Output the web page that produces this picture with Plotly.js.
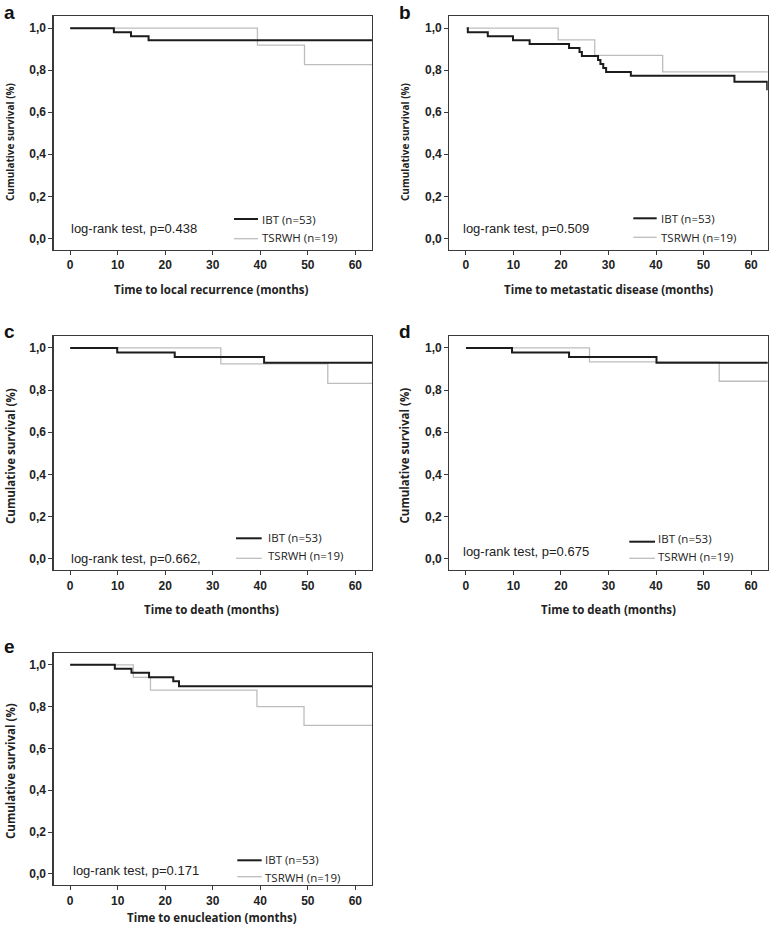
<!DOCTYPE html>
<html>
<head>
<meta charset="utf-8">
<script src="https://cdn.plot.ly/plotly-3.0.1.min.js"></script>
<style>html,body{margin:0;padding:0;background:#fff;}#chart{width:769px;height:932px;}</style>
</head>
<body>
<div id="chart"></div>
<script>
// ---------- DATA ----------
const seriesNames = ['IBT (n=53)', 'TSRWH (n=19)'];
const xTicks = [0, 10, 20, 30, 40, 50, 60];
const yTicks = [0, 0.2, 0.4, 0.6, 0.8, 1.0];
const yTickLabels = ['0,0', '0,2', '0,4', '0,6', '0,8', '1,0'];
const panelLetters = ['a', 'b', 'c', 'd', 'e'];
const xTitles = ['Time to local recurrence (months)', 'Time to metastatic disease (months)',
                 'Time to death (months)', 'Time to death (months)', 'Time to enucleation (months)'];
const logRankTexts = ['log-rank test, p=0.438', 'log-rank test, p=0.509', 'log-rank test, p=0.662,',
                      'log-rank test, p=0.675', 'log-rank test, p=0.171'];

// Panel a – local recurrence
const a_ibt_t = [0, 9.2, 12.8, 16.5, 65];
const a_ibt_s = [1.0, 0.981, 0.962, 0.943, 0.943];
const a_ts_t  = [0, 39.4, 49.3, 65];
const a_ts_s  = [1.0, 0.919, 0.827, 0.827];

// Panel b – metastatic disease
const b_ibt_t = [0.2, 0.4, 4.6, 9.9, 13.4, 21.7, 23.9, 24.4, 27.8, 28.3, 28.9, 29.5, 34.7, 56.5, 63.4, 65];
const b_ibt_s = [1.0, 0.981, 0.962, 0.943, 0.925, 0.906, 0.887, 0.868, 0.849, 0.830, 0.811, 0.792, 0.774, 0.745, 0.71, 0.71];
const b_ts_t  = [0, 19.4, 27.1, 41.4, 65];
const b_ts_s  = [1.0, 0.944, 0.871, 0.792, 0.792];

// Panel c – death
const c_ibt_t = [0, 9.9, 22.0, 40.8, 65];
const c_ibt_s = [1.0, 0.978, 0.957, 0.930, 0.930];
const c_ts_t  = [0, 31.7, 54.2, 65];
const c_ts_s  = [1.0, 0.924, 0.832, 0.832];

// Panel d – death
const d_ibt_t = [0, 9.7, 21.7, 40.1, 65];
const d_ibt_s = [1.0, 0.978, 0.957, 0.930, 0.930];
const d_ts_t  = [0, 26.0, 53.3, 65];
const d_ts_s  = [1.0, 0.934, 0.842, 0.842];

// Panel e – enucleation
const e_ibt_t = [0, 9.4, 12.9, 16.6, 21.7, 22.9, 65];
const e_ibt_s = [1.0, 0.981, 0.962, 0.941, 0.922, 0.898, 0.898];
const e_ts_t  = [0, 13.3, 16.9, 39.3, 49.2, 65];
const e_ts_s  = [1.0, 0.940, 0.879, 0.800, 0.710, 0.710];

// ---------- LAYOUT SPEC (pixel positions in the 769x932 page) ----------
const W = 769, H = 932;
const px = x => x / W;
const py = y => 1 - y / H;
const colX = [[53.5, 372], [449.3, 767.7]];
const rowY = [[16, 249.5], [335.7, 570], [652.7, 885]];

const panels = [
  {col:0,row:0, ibt:[a_ibt_t,a_ibt_s], ts:[a_ts_t,a_ts_s], letter:[2,12], ytitle:[10,142,10], xtitle:[211,290],
   lr:[69,228.7], leg:{l0:234,l1:258,yb:219,yg:238.7,tx:261,tyb:219,tyg:237.5}},
  {col:1,row:0, ibt:[b_ibt_t,b_ibt_s], ts:[b_ts_t,b_ts_s], letter:[397,12], ytitle:[405,142,10], xtitle:[608.5,290],
   lr:[460.7,228.7], leg:{l0:633.3,l1:656.7,yb:218.3,yg:237.3,tx:659.5,tyb:218.8,tyg:237.5}},
  {col:0,row:1, ibt:[c_ibt_t,c_ibt_s], ts:[c_ts_t,c_ts_s], letter:[2,331], ytitle:[10,456,11.5], xtitle:[212,609],
   lr:[69.3,558.3], leg:{l0:236,l1:261.7,yb:538.3,yg:558.3,tx:266.7,tyb:537.3,tyg:555.3}},
  {col:1,row:1, ibt:[d_ibt_t,d_ibt_s], ts:[d_ts_t,d_ts_s], letter:[397,331], ytitle:[403.5,456,11.5], xtitle:[608.5,609],
   lr:[460.7,551.7], leg:{l0:629.3,l1:655,yb:541.7,yg:558.3,tx:657.3,tyb:538.3,tyg:556.3}},
  {col:0,row:2, ibt:[e_ibt_t,e_ibt_s], ts:[e_ts_t,e_ts_s], letter:[2,646], ytitle:[10,771,11.5], xtitle:[212,917.3],
   lr:[71,870], leg:{l0:237.3,l1:261.7,yb:860.3,yg:876.7,tx:264,tyb:859,tyg:877}}
];

const BLACK = '#1c1c1c', GRAY = '#bdbdbd', FRAME = '#3a3a3a';
const tickFont = {family:'Liberation Sans, Arial, sans-serif', size:12, color:'#222', weight:'bold'};
const titleFamily = 'Open Sans, Noto Sans, sans-serif';

const data = [];
const layout = {
  width: W, height: H,
  margin: {l:0, r:0, t:0, b:0},
  paper_bgcolor: '#fff', plot_bgcolor: '#fff',
  showlegend: false,
  separators: ',.',
  annotations: [], shapes: []
};

panels.forEach((p, i) => {
  const n = i + 1;
  const xa = 'x' + (n === 1 ? '' : n), ya = 'y' + (n === 1 ? '' : n);
  const xk = 'xaxis' + (n === 1 ? '' : n), yk = 'yaxis' + (n === 1 ? '' : n);
  data.push({x: p.ts[0], y: p.ts[1], xaxis: xa, yaxis: ya, type: 'scatter', mode: 'lines',
             name: seriesNames[1], line: {shape: 'hv', color: GRAY, width: 1.3}, hoverinfo: 'skip'});
  data.push({x: p.ibt[0], y: p.ibt[1], xaxis: xa, yaxis: ya, type: 'scatter', mode: 'lines',
             name: seriesNames[0], line: {shape: 'hv', color: BLACK, width: 2}, hoverinfo: 'skip'});
  const cx = colX[p.col], ry = rowY[p.row];
  layout[xk] = {domain: [px(cx[0]), px(cx[1])], anchor: ya, range: [-3.5, 63.5],
    tickmode: 'array', tickvals: xTicks, ticktext: xTicks.map(String),
    ticks: 'outside', ticklen: 4, tickwidth: 1, tickcolor: FRAME, tickfont: tickFont,
    showline: true, linecolor: FRAME, linewidth: 1.2, mirror: true,
    showgrid: false, zeroline: false, fixedrange: true};
  layout[yk] = {domain: [py(ry[1]), py(ry[0])], anchor: xa, range: [-0.053, 1.058],
    tickmode: 'array', tickvals: yTicks, ticktext: yTickLabels,
    ticks: 'outside', ticklen: 4, tickwidth: 1, tickcolor: FRAME, tickfont: tickFont,
    showline: true, linecolor: FRAME, linewidth: 1.2, mirror: true,
    showgrid: false, zeroline: false, fixedrange: true};
  const A = layout.annotations;
  A.push({xref:'paper', yref:'paper', x:px(p.letter[0]), y:py(p.letter[1]), xanchor:'left', yanchor:'middle',
          text: panelLetters[i], showarrow:false,
          font:{family:'Liberation Sans, Arial, sans-serif', size:19, color:'#111', weight:'bold'}});
  A.push({xref:'paper', yref:'paper', x:px(p.ytitle[0]), y:py(p.ytitle[1]), xanchor:'center', yanchor:'middle',
          text:'Cumulative survival (%)', textangle:-90, showarrow:false,
          font:{family:titleFamily, size:p.ytitle[2], color:'#222', weight:'bold'}});
  A.push({xref:'paper', yref:'paper', x:px(p.xtitle[0]), y:py(p.xtitle[1]), xanchor:'center', yanchor:'middle',
          text:xTitles[i], showarrow:false,
          font:{family:titleFamily, size:11.5, color:'#222', weight:'bold'}});
  A.push({xref:'paper', yref:'paper', x:px(p.lr[0]), y:py(p.lr[1]), xanchor:'left', yanchor:'middle',
          text:logRankTexts[i], showarrow:false,
          font:{family:'Liberation Sans, Arial, sans-serif', size:13, color:'#222'}});
  const L = p.leg;
  layout.shapes.push({type:'line', xref:'paper', yref:'paper', x0:px(L.l0), x1:px(L.l1), y0:py(L.yb), y1:py(L.yb),
                      line:{color:BLACK, width:2}});
  layout.shapes.push({type:'line', xref:'paper', yref:'paper', x0:px(L.l0), x1:px(L.l1), y0:py(L.yg), y1:py(L.yg),
                      line:{color:GRAY, width:1.3}});
  A.push({xref:'paper', yref:'paper', x:px(L.tx), y:py(L.tyb), xanchor:'left', yanchor:'middle',
          text:seriesNames[0], showarrow:false, borderpad:0, font:{family:titleFamily, size:11.5, color:'#222'}});
  A.push({xref:'paper', yref:'paper', x:px(L.tx), y:py(L.tyg), xanchor:'left', yanchor:'middle',
          text:seriesNames[1], showarrow:false, borderpad:0, font:{family:titleFamily, size:11.5, color:'#222'}});
});

Plotly.newPlot('chart', data, layout, {staticPlot: true, displayModeBar: false});
</script>
</body>
</html>
